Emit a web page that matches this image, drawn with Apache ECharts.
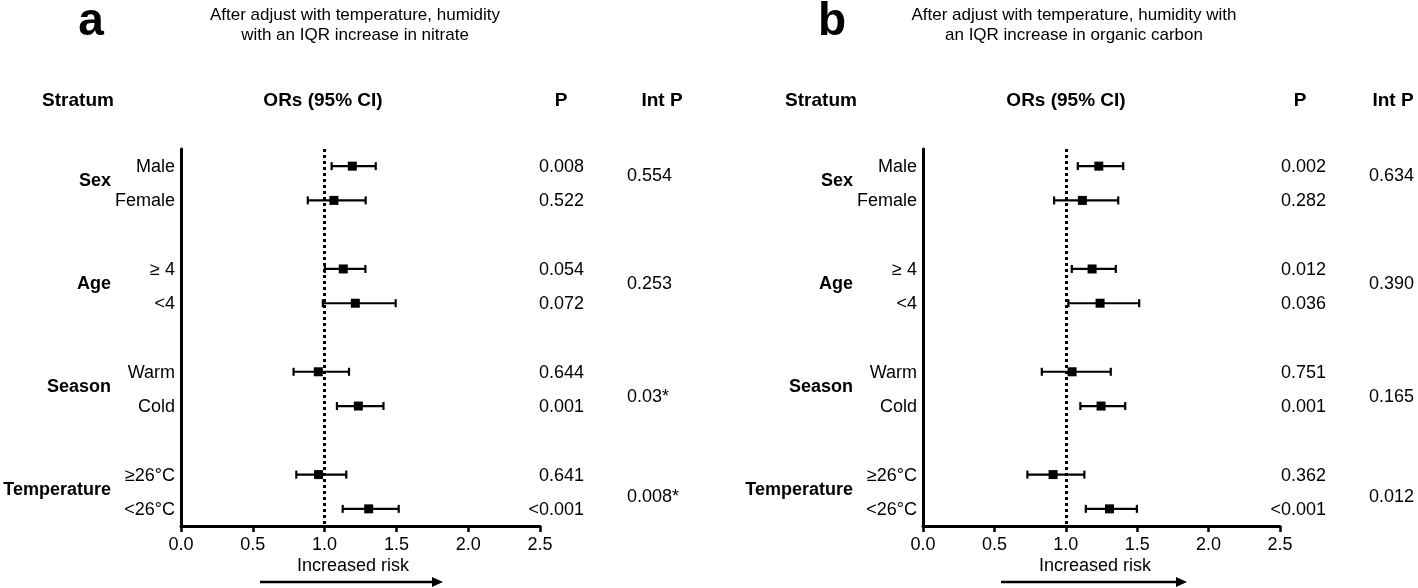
<!DOCTYPE html>
<html>
<head>
<meta charset="utf-8">
<script src="https://cdn.jsdelivr.net/npm/echarts@6/dist/echarts.min.js"></script>
<style>
html,body{margin:0;padding:0;background:#fff;}
#chart{width:1418px;height:588px;}
</style>
</head>
<body>
<div id="chart"></div>
<script>
// ---------- data ----------
const strata = ["Sex", "Age", "Season", "Temperature"];
const subgroups = ["Male", "Female", "≥ 4", "<4", "Warm", "Cold", "≥26°C", "<26°C"];
const xTicks = [0, 0.5, 1.0, 1.5, 2.0, 2.5];

// Panel a: nitrate
const orA = [1.193, 1.065, 1.130, 1.214, 0.956, 1.235, 0.958, 1.307];
const loA = [1.049, 0.883, 1.002, 0.988, 0.784, 1.086, 0.803, 1.126];
const hiA = [1.356, 1.286, 1.284, 1.495, 1.170, 1.410, 1.151, 1.516];
const pA = ["0.008", "0.522", "0.054", "0.072", "0.644", "0.001", "0.641", "<0.001"];
const intPA = ["0.554", "0.253", "0.03*", "0.008*"];

// Panel b: organic carbon
const orB = [1.231, 1.116, 1.184, 1.240, 1.044, 1.247, 0.911, 1.306];
const loB = [1.084, 0.918, 1.042, 1.018, 0.832, 1.102, 0.731, 1.140];
const hiB = [1.402, 1.367, 1.350, 1.514, 1.315, 1.416, 1.130, 1.498];
const pB = ["0.002", "0.282", "0.012", "0.036", "0.751", "0.001", "0.362", "<0.001"];
const intPB = ["0.634", "0.390", "0.165", "0.012"];

// ---------- helpers ----------
const FONT = '"Liberation Sans", Arial, Helvetica, sans-serif';
const rowOf = i => Math.floor(i / 2) * 3 + (i % 2);   // two rows per stratum, one blank row between
const groupRow = g => g * 3 + 0.5;
const INTP_SHIFT = [-7, -2, 8, 5];                     // small vertical text nudges (px) as in the original layout

function panelSeries(ax, or, lo, hi, p, intP) {
  const common = { xAxisIndex: ax, yAxisIndex: ax, animation: false, silent: true };
  return [
    Object.assign({
      type: 'custom', clip: false,
      data: subgroups.map((s, i) => [lo[i], hi[i], rowOf(i)]),
      encode: { x: [0, 1], y: 2 },
      renderItem: function (params, api) {
        const a = api.coord([api.value(0), api.value(2)]);
        const b = api.coord([api.value(1), api.value(2)]);
        const st = { stroke: '#000', lineWidth: 2.2 };
        return { type: 'group', children: [
          { type: 'line', shape: { x1: a[0], y1: a[1], x2: b[0], y2: b[1] }, style: st },
          { type: 'line', shape: { x1: a[0], y1: a[1] - 4, x2: a[0], y2: a[1] + 4 }, style: st },
          { type: 'line', shape: { x1: b[0], y1: b[1] - 4, x2: b[0], y2: b[1] + 4 }, style: st }
        ]};
      }
    }, common),
    Object.assign({
      type: 'scatter',
      data: subgroups.map((s, i) => [or[i], rowOf(i)]),
      symbol: 'rect', symbolSize: 9,
      itemStyle: { color: '#000', opacity: 1 },
      z: 5,
      markLine: {
        silent: true, symbol: ['none', 'none'], label: { show: false },
        lineStyle: { color: '#000', width: 3, type: 'dotted', opacity: 1 },
        data: [{ xAxis: 1 }]
      }
    }, common),
    Object.assign({
      type: 'custom', clip: false,
      data: subgroups.map((s, i) => [0, rowOf(i)]),
      encode: { x: 0, y: 1 },
      renderItem: function (params, api) {
        const i = params.dataIndex;
        const c = api.coord([0, api.value(1)]);
        const left = params.coordSys.x;
        return { type: 'group', children: [
          { type: 'text', x: left - 6, y: c[1] + 1,
            style: { text: subgroups[i], fill: '#000', font: '18px ' + FONT, textAlign: 'right', textVerticalAlign: 'middle' } },
          { type: 'text', x: left + 403, y: c[1] + 1,
            style: { text: p[i], fill: '#000', font: '18px ' + FONT, textAlign: 'right', textVerticalAlign: 'middle' } }
        ]};
      }
    }, common),
    Object.assign({
      type: 'custom', clip: false,
      data: strata.map((s, g) => [0, groupRow(g)]),
      encode: { x: 0, y: 1 },
      renderItem: function (params, api) {
        const g = params.dataIndex;
        const c = api.coord([0, api.value(1)]);
        const left = params.coordSys.x;
        return { type: 'group', children: [
          { type: 'text', x: left - 70, y: c[1] - 2,
            style: { text: strata[g], fill: '#000', font: 'bold 18px ' + FONT, textAlign: 'right', textVerticalAlign: 'middle' } },
          { type: 'text', x: left + 446, y: c[1] + INTP_SHIFT[g],
            style: { text: intP[g], fill: '#000', font: '18px ' + FONT, textAlign: 'left', textVerticalAlign: 'middle' } }
        ]};
      }
    }, common)
  ];
}

function xAxisCfg(gi) {
  return {
    type: 'value', gridIndex: gi, position: 'bottom',
    min: xTicks[0], max: xTicks[xTicks.length - 1], interval: 0.5,
    axisLine: { show: true, onZero: false, lineStyle: { color: '#000', width: 3 } },
    axisTick: { show: true, length: 6, lineStyle: { color: '#000', width: 2.5 } },
    axisLabel: { color: '#000', fontSize: 18, fontFamily: FONT, margin: 10, formatter: v => v.toFixed(1) },
    splitLine: { show: false }
  };
}
function yAxisCfg(gi) {
  return {
    type: 'value', gridIndex: gi, min: -0.5, max: 10.5, inverse: true,
    axisLine: { show: true, onZero: false, lineStyle: { color: '#000', width: 3 } },
    axisTick: { show: false }, axisLabel: { show: false }, splitLine: { show: false }
  };
}

function txt(x, y, text, font, align) {
  return { type: 'text', x: x, y: y, silent: true,
    style: { text: text, fill: '#000', font: font, textAlign: align || 'center', textVerticalAlign: 'middle' } };
}
function arrow(x1, x2, y) {
  return [
    { type: 'line', silent: true, shape: { x1: x1, y1: y, x2: x2 - 8, y2: y }, style: { stroke: '#000', lineWidth: 2.5 } },
    { type: 'polygon', silent: true, shape: { points: [[x2, y], [x2 - 11, y - 5], [x2 - 11, y + 5]] }, style: { fill: '#000' } }
  ];
}

const TITLE = '17px ' + FONT;
const HEAD = 'bold 19px ' + FONT;
const graphics = [
  txt(91, 22, 'a', 'bold 46px ' + FONT),
  txt(832, 22, 'b', 'bold 46px ' + FONT),
  txt(355, 15, 'After adjust with temperature, humidity', TITLE),
  txt(355, 35, 'with an IQR increase in nitrate', TITLE),
  txt(1074, 15, 'After adjust with temperature, humidity with', TITLE),
  txt(1074, 35, 'an IQR increase in organic carbon', TITLE),
  txt(78, 101, 'Stratum', HEAD),
  txt(323, 101, 'ORs (95% CI)', HEAD),
  txt(561, 101, 'P', HEAD),
  txt(662, 101, 'Int P', HEAD),
  txt(821, 101, 'Stratum', HEAD),
  txt(1066, 101, 'ORs (95% CI)', HEAD),
  txt(1300, 101, 'P', HEAD),
  txt(1393, 101, 'Int P', HEAD),
  txt(353, 566, 'Increased risk', '18px ' + FONT),
  txt(1095, 566, 'Increased risk', '18px ' + FONT)
].concat(arrow(260, 443, 582)).concat(arrow(1001, 1187, 582));

const chart = echarts.init(document.getElementById('chart'), null, { renderer: 'canvas' });
chart.setOption({
  animation: false,
  backgroundColor: '#fff',
  grid: [
    { left: 181, top: 149, width: 359, height: 377 },
    { left: 923, top: 149, width: 357, height: 377 }
  ],
  xAxis: [xAxisCfg(0), xAxisCfg(1)],
  yAxis: [yAxisCfg(0), yAxisCfg(1)],
  series: panelSeries(0, orA, loA, hiA, pA, intPA).concat(panelSeries(1, orB, loB, hiB, pB, intPB)),
  graphic: graphics
});
</script>
</body>
</html>
